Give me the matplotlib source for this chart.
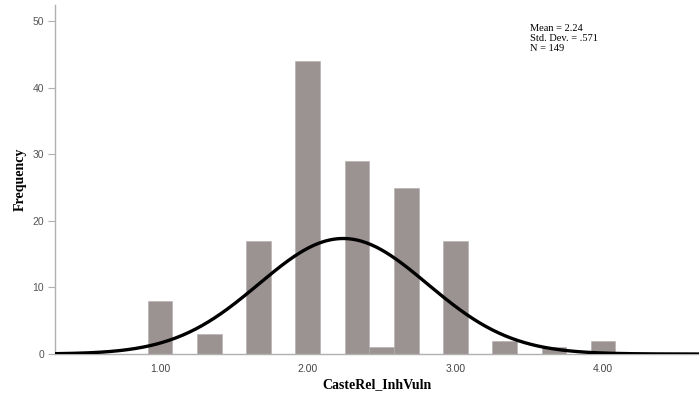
import numpy as np
import matplotlib.pyplot as plt

# histogram bins (width 1/6) and counts
bin_centers = [1.00, 1.333, 1.667, 2.00, 2.333, 2.50, 2.667, 3.00, 3.333, 3.667, 4.00]
counts = [8, 3, 17, 44, 29, 1, 25, 17, 2, 1, 2]
bin_width = 1 / 6

mean, sd, n = 2.24, 0.571, 149
x_ticks = [1.0, 2.0, 3.0, 4.0]
x_labels = ["1.00", "2.00", "3.00", "4.00"]
y_ticks = [0, 10, 20, 30, 40, 50]

fig = plt.figure(figsize=(6.99, 3.96), dpi=100)
ax = fig.add_axes([0.079, 0.106, 0.921, 0.881])

ax.bar(bin_centers, counts, width=bin_width, color="#9b9392",
       edgecolor="#b3adac", linewidth=0.4, zorder=2)

# normal curve scaled to counts
xs = np.linspace(0.29, 4.65, 400)
ys = n * bin_width / (sd * np.sqrt(2 * np.pi)) * np.exp(-0.5 * ((xs - mean) / sd) ** 2)
ax.plot(xs, ys, color="black", linewidth=2.4, zorder=3)

ax.set_xlim(0.29, 4.65)
ax.set_ylim(0, 52.4)
ax.set_xticks(x_ticks, x_labels)
ax.set_yticks(y_ticks)

for s in ["top", "right"]:
    ax.spines[s].set_visible(False)
for s in ["left", "bottom"]:
    ax.spines[s].set_color("#b0b0b0")
    ax.spines[s].set_linewidth(1.0)

ax.tick_params(axis="x", length=0, pad=7, labelsize=7.5, labelcolor="#444444")
ax.tick_params(axis="y", length=5, color="#b0b0b0", pad=3, labelsize=7.5, labelcolor="#555555")
for lab in ax.get_xticklabels() + ax.get_yticklabels():
    lab.set_family("Liberation Sans")

ax.set_xlabel("CasteRel_InhVuln", family="Liberation Serif", fontweight="bold",
              fontsize=10, labelpad=3)
ax.set_ylabel("Frequency", family="Liberation Serif", fontweight="bold",
              fontsize=10, labelpad=4)

ax.text(0.737, 0.947, "Mean = 2.24\nStd. Dev. = .571\nN = 149",
        transform=ax.transAxes, family="Liberation Serif", fontsize=7.5,
        va="top", ha="left", linespacing=1.2)

fig.savefig("out.png", dpi=100)
